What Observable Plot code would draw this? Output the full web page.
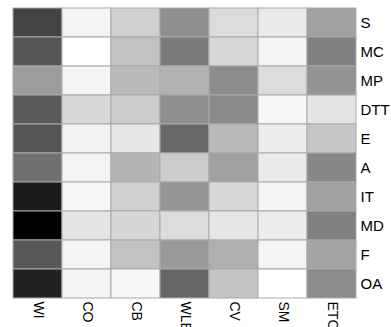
<!DOCTYPE html>
<html>
<head>
<meta charset="utf-8">
<script src="https://cdn.jsdelivr.net/npm/d3@7"></script>
<script src="https://cdn.jsdelivr.net/npm/@observablehq/plot@0.6"></script>
<style>
  html, body { margin: 0; padding: 0; background: #fff; }
  svg { display: block; }
</style>
</head>
<body>
<div id="chart"></div>
<script>
const columns = ["WI", "CO", "CB", "WLE", "CV", "SM", "ETC"];
const rows = ["S", "MC", "MP", "DTT", "E", "A", "IT", "MD", "F", "OA"];
// gray level per cell (0 = black, 255 = white), row by row
const S   = [68, 244, 208, 143, 220, 234, 160];
const MC  = [85, 255, 194, 122, 216, 244, 128];
const MP  = [156, 244, 186, 178, 140, 220, 148];
const DTT = [90, 216, 203, 143, 138, 247, 228];
const E   = [85, 242, 230, 104, 184, 238, 198];
const A   = [112, 244, 180, 204, 160, 234, 136];
const IT  = [26, 246, 208, 150, 216, 244, 160];
const MD  = [0, 228, 214, 220, 230, 236, 128];
const F   = [88, 244, 194, 154, 176, 244, 164];
const OA  = [34, 244, 246, 102, 196, 255, 140];
const values = [S, MC, MP, DTT, E, A, IT, MD, F, OA];

const cells = [];
rows.forEach((r, i) => columns.forEach((c, j) => cells.push({row: r, col: c, v: values[i][j]})));

const plot = Plot.plot({
  width: 391,
  height: 327,
  marginLeft: 11,
  marginRight: 34,
  marginTop: 7,
  marginBottom: 28,
  style: {fontFamily: "'Liberation Sans', Arial, sans-serif", background: "#fff", overflow: "visible"},
  x: {domain: columns, padding: 0, label: null},
  y: {domain: rows, padding: 0, label: null},
  color: {type: "linear", domain: [0, 255], range: ["#000000", "#ffffff"], interpolate: "rgb"},
  marks: [
    Plot.cell(cells, {x: "col", y: "row", fill: "v", stroke: "#aaa", strokeWidth: 1}),
    Plot.axisY({anchor: "right", tickSize: 0, tickPadding: 3, fontSize: 15, label: null, fill: "#000"}),
    Plot.axisX({anchor: "bottom", tickSize: 0, tickPadding: 2, tickRotate: 90, fontSize: 14, label: null, fill: "#000"})
  ]
});
document.getElementById("chart").appendChild(plot);
</script>
</body>
</html>
